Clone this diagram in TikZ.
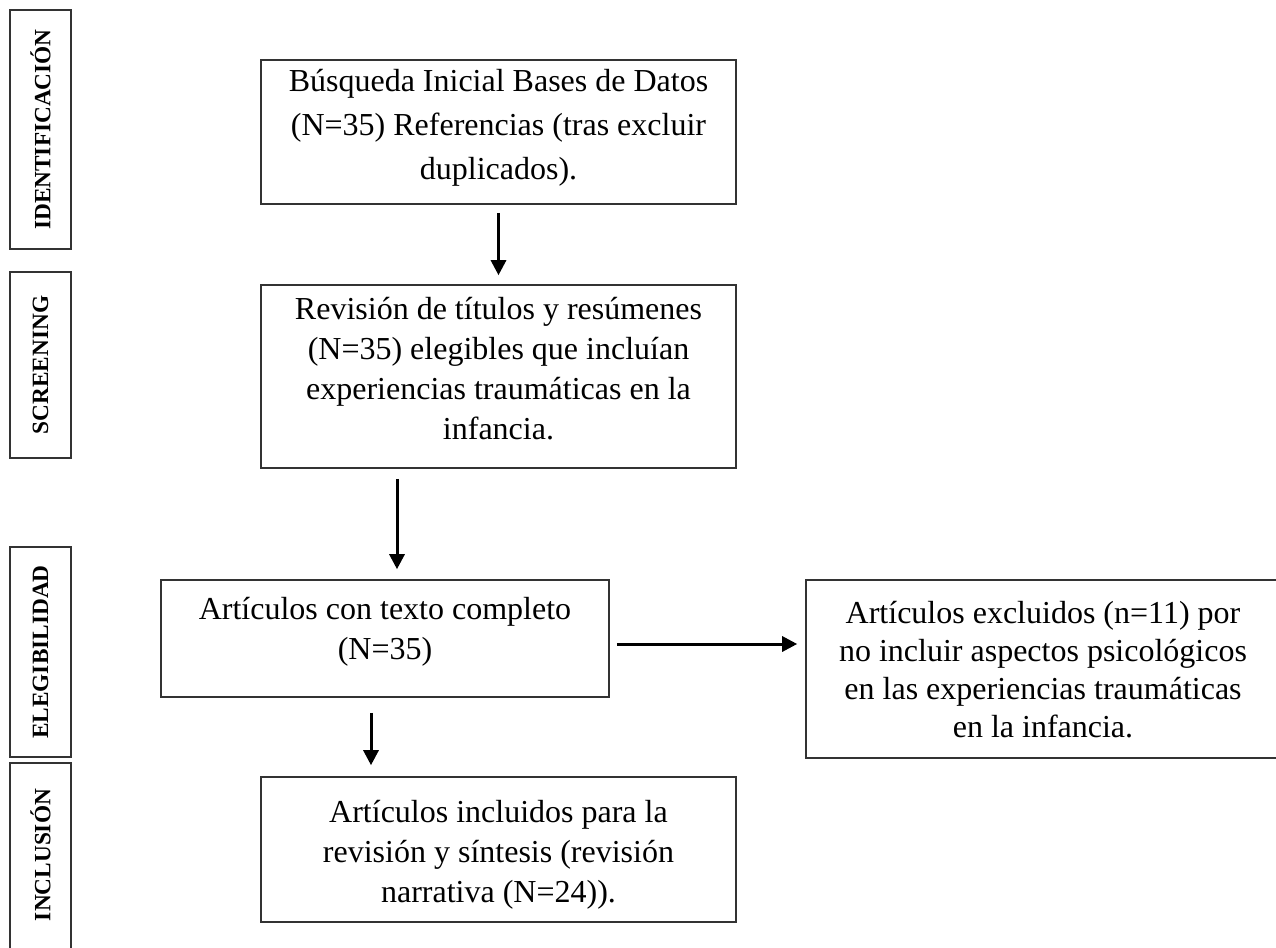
\documentclass[tikz,border=0pt]{standalone}
\usepackage{fontspec}
\setmainfont{Liberation Serif}
\usetikzlibrary{arrows.meta}
\begin{document}
\begin{tikzpicture}[x=1pt,y=-1pt,
  frame/.style={draw=black!80, line width=1.6pt, inner sep=0pt, rectangle},
  txt/.style={font=\fontsize{32}{40}\selectfont, align=center, inner sep=0pt},
  side/.style={font=\bfseries\fontsize{23.3}{26}\selectfont, rotate=90, inner sep=0pt},
  arr/.style={line width=3pt, -{Triangle[length=15pt,width=15pt]}}]
\useasboundingbox (0,0) rectangle (1276,947);
\clip (0,0) rectangle (1276,947);
% side labels
\node[frame, minimum width=61pt, minimum height=239pt] (s1) at (40.5,129.5) {};
\node[side] (l1) at (s1.center) {IDENTIFICACIÓN};
\node[frame, minimum width=61pt, minimum height=186pt] (s2) at (40.5,365) {};
\node[side] (l2) at (s2.center) {SCREENING};
\node[frame, minimum width=61pt, minimum height=210pt] (s3) at (40.5,652) {};
\node[side] (l3) at (s3.center) {ELEGIBILIDAD};
\node[frame, minimum width=61pt, minimum height=200pt] (s4) at (40.5,863) {};
\node[side] (l4) at (40.5,855) {INCLUSIÓN};
% main boxes
\node[frame, minimum width=475pt, minimum height=144pt] (b1) at (498.5,132) {};
\node[txt, font=\fontsize{32}{44}\selectfont] (t1) at (498.5,128) {Búsqueda Inicial Bases de Datos\\(N=35) Referencias (tras excluir\\duplicados).};
\node[frame, minimum width=475pt, minimum height=183pt] (b2) at (498.5,376.5) {};
\node[txt] (t2) at (498.5,369) {Revisión de títulos y resúmenes\\(N=35) elegibles que incluían\\experiencias traumáticas en la\\infancia.};
\node[frame, minimum width=448pt, minimum height=117pt] (b3) at (385,638.5) {};
\node[txt] (t3) at (385,632) {Artículos con texto completo\\(N=35)};
\node[frame, minimum width=484pt, minimum height=178pt] (b4) at (1048,669) {};
\node[txt, font=\fontsize{32}{38}\selectfont] (t4) at (1043,670) {Artículos excluidos (n=11) por\\no incluir aspectos psicológicos\\en las experiencias traumáticas\\en la infancia.};
\node[frame, minimum width=475pt, minimum height=145pt] (b5) at (498.5,849.5) {};
\node[txt] (t5) at (498.5,855) {Artículos incluidos para la\\revisión y síntesis (revisión\\narrativa (N=24)).};
% arrow positions
\coordinate (x2) at (397,0);
\coordinate (x4) at (371,0);
\coordinate (y3) at (0,644);
% arrows
\draw[arr] ([yshift=-8pt]b1.south) -- ([yshift=9pt]b2.north);
\draw[arr] ([yshift=-10pt]b2.south -| x2) -- ([yshift=10pt]b3.north -| x2);
\draw[arr] ([xshift=7pt]b3.east |- y3) -- ([xshift=-8pt]b4.west |- y3);
\draw[arr] ([yshift=-15pt]b3.south -| x4) -- ([yshift=11pt]b5.north -| x4);
\end{tikzpicture}
\end{document}
